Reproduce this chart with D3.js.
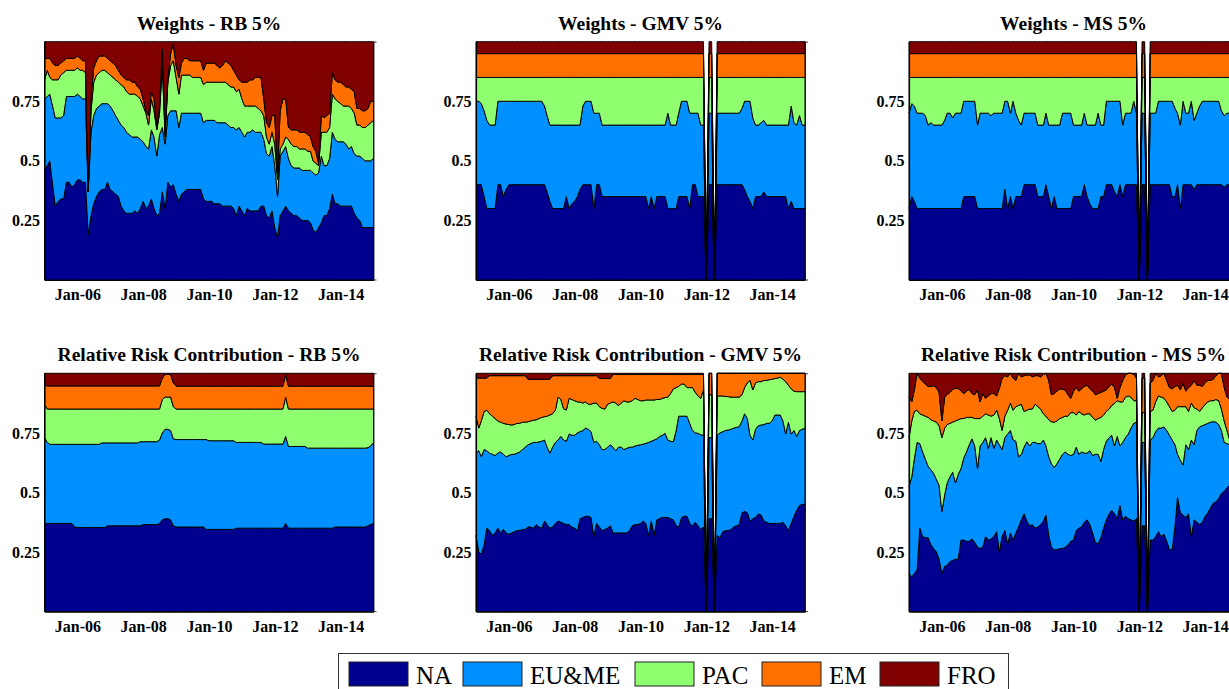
<!DOCTYPE html>
<html>
<head>
<meta charset="utf-8">
<script src="https://cdn.jsdelivr.net/npm/d3@7"></script>
<style>
  body { margin: 0; background: #fff; }
  svg { display: block; }
</style>
</head>
<body>
<svg id="chart" width="1229" height="689"></svg>
<script>
// Monthly observations, Jan 2005 to Jan 2015 (121 months)
const startMonth = new Date(2005, 0, 1);
const months = d3.range(121).map(i => d3.timeMonth.offset(startMonth, i));

const regions = ["NA", "EU&ME", "PAC", "EM", "FRO"];
const regionColors = ["#00008f", "#0090ff", "#8fff70", "#ff7000", "#800000"];

const yTickValues = [0.25, 0.5, 0.75];
const yTickLabels = ["0.25", "0.5", "0.75"];
const xTickYears = [2006, 2008, 2010, 2012, 2014];
const xTickLabels = ["Jan-06", "Jan-08", "Jan-10", "Jan-12", "Jan-14"];

// All values in percent; one row per calendar year (last row = Jan 2015)

// ---- Weights - RB 5%
const wRbNA = [
46,48,50,40,31,33,34,34,41,41,39,40,
42,42,41,41,19,27,32,35,37,38,38,41,
38,37,36,35,31,29,28,28,28,29,28,30,
33,30,31,34,30,27,28,37,30,41,39,40,
36,33,36,37,38,38,38,38,38,38,34,33,
33,33,32,32,32,31,31,31,31,30,27,31,
29,27,30,29,29,29,29,31,31,27,26,29,
22,18,27,29,31,29,28,27,27,26,25,25,
25,24,21,20,22,24,27,27,30,36,32,32,
31,31,31,31,31,28,26,25,22,22,22,22,
22];
const wRbEU = [
30,29,28,33,37,35,34,35,36,36,38,37,
36,35,35,35,18,35,37,37,36,36,36,33,
35,34,33,32,34,35,34,33,32,31,32,29,
25,26,24,29,30,25,33,27,27,28,32,31,
35,31,34,33,32,32,32,32,32,32,32,34,
34,34,35,34,34,35,35,34,33,34,36,33,
33,33,32,33,34,33,33,31,28,26,26,27,
26,17,25,25,25,22,20,20,20,21,21,21,
21,22,24,24,23,28,21,21,21,26,27,26,
27,27,26,24,25,25,26,27,29,28,28,28,
29];
const wRbPAC = [
8,11,7,11,16,16,18,18,11,11,11,11,
11,11,12,11,0,9,14,14,14,14,14,13,
13,14,15,16,17,17,17,17,18,18,17,17,
15,14,10,13,11,11,9,26,3,14,19,21,
14,14,16,16,16,16,15,15,15,15,16,16,
16,16,16,17,17,17,17,17,17,17,16,16,
14,13,11,11,10,11,10,9,10,7,5,6,
9,7,3,3,4,8,9,9,9,8,9,9,
8,8,5,5,3,10,14,14,13,16,17,17,
16,15,16,18,16,17,13,13,13,14,15,16,
16];
const wRbEM = [
9,5,8,7,6,6,5,5,5,5,5,5,
5,5,4,5,0,5,6,6,7,6,6,6,
6,6,6,5,4,4,5,6,5,5,4,4,
3,1,4,3,5,1,3,7,2,1,5,7,
5,7,5,7,7,6,7,7,7,7,6,8,
8,8,8,7,6,7,9,9,9,7,7,4,
7,10,10,11,11,12,13,14,7,6,7,7,
12,3,16,19,16,5,6,7,7,7,7,7,
7,6,6,5,1,7,6,7,6,9,8,8,
9,9,8,8,8,9,7,7,7,7,7,9,
8];
const wRbFRO = [
7,7,7,9,10,10,9,8,7,7,7,7,
6,7,8,8,63,24,11,8,6,6,6,7,
8,9,10,12,14,15,16,16,17,17,19,20,
24,29,31,21,24,36,27,3,38,16,5,1,
10,15,9,7,7,8,8,8,8,8,12,9,
9,9,9,10,11,10,8,9,10,12,14,16,
17,17,17,16,16,15,15,15,24,34,36,31,
31,55,29,24,24,36,37,37,37,38,38,38,
39,40,44,46,51,31,32,31,30,13,16,17,
17,18,19,19,20,21,28,28,29,29,28,25,
25];

// ---- Weights - GMV 5%
const wGmvNA = [
40,40,40,35,30,30,30,30,40,40,35,38,
40,40,40,40,40,40,40,40,40,40,40,40,
40,40,37,33,30,30,30,30,30,35,30,32,
33,35,38,40,40,40,40,30,40,40,35,35,
35,35,35,35,35,35,35,35,35,35,35,35,
35,35,35,30,35,30,35,35,35,35,30,30,
30,30,35,35,35,35,30,40,40,35,35,35,
0,40,40,0,40,40,40,40,40,40,40,40,
40,40,38,35,33,30,35,35,35,37,35,35,
35,35,35,35,35,35,30,33,30,30,30,30,
30];
const wGmvEU = [
35,35,34,36,37,35,35,35,35,35,40,37,
35,35,35,35,35,35,35,35,35,35,35,35,
35,33,32,32,35,35,35,35,35,30,35,33,
32,30,27,33,35,35,35,40,30,30,30,30,
30,30,30,30,30,30,30,30,30,30,30,30,
30,30,30,35,30,35,30,30,30,30,40,35,
35,35,35,40,40,40,40,30,30,35,30,30,
0,30,30,0,30,30,30,30,30,30,30,30,
30,32,37,40,42,38,30,30,31,30,30,30,
30,30,30,30,30,30,35,40,36,35,39,35,
35];
const wGmvPAC = [
10,10,11,14,18,20,20,20,10,10,10,10,
10,10,10,10,10,10,10,10,10,10,10,10,
10,12,16,20,20,20,20,20,20,20,20,20,
20,20,20,12,10,10,10,15,15,15,20,20,
20,20,20,20,20,20,20,20,20,20,20,20,
20,20,20,20,20,20,20,20,20,20,15,20,
20,20,15,10,10,10,15,15,15,15,20,20,
0,15,15,0,15,15,15,15,15,15,15,15,
15,13,10,10,10,17,20,20,19,18,20,20,
20,20,20,20,20,20,20,12,19,20,16,20,
20];
const wGmvEM = [
10,10,10,10,10,10,10,10,10,10,10,10,
10,10,10,10,10,10,10,10,10,10,10,10,
10,10,10,10,10,10,10,10,10,10,10,10,
10,10,10,10,10,10,10,10,10,10,10,10,
10,10,10,10,10,10,10,10,10,10,10,10,
10,10,10,10,10,10,10,10,10,10,10,10,
10,10,10,10,10,10,10,10,10,10,10,10,
0,10,10,0,10,10,10,10,10,10,10,10,
10,10,10,10,10,10,10,10,10,10,10,10,
10,10,10,10,10,10,10,10,10,10,10,10,
10];
const wGmvFRO = [
5,5,5,5,5,5,5,5,5,5,5,5,
5,5,5,5,5,5,5,5,5,5,5,5,
5,5,5,5,5,5,5,5,5,5,5,5,
5,5,5,5,5,5,5,5,5,5,5,5,
5,5,5,5,5,5,5,5,5,5,5,5,
5,5,5,5,5,5,5,5,5,5,5,5,
5,5,5,5,5,5,5,5,5,5,5,5,
0,5,5,0,5,5,5,5,5,5,5,5,
5,5,5,5,5,5,5,5,5,5,5,5,
5,5,5,5,5,5,5,5,5,5,5,5,
5];

// ---- Weights - MS 5%
const wMsNA = [
30,35,33,30,30,30,30,30,30,30,30,30,
30,30,30,30,30,30,30,30,35,35,35,35,
35,30,30,30,30,30,30,30,30,30,30,38,
30,35,30,35,35,35,40,40,40,40,40,35,
35,35,40,35,30,35,30,30,30,30,30,30,
35,35,35,35,40,35,32,30,30,30,35,35,
40,40,40,37,35,40,35,40,40,40,40,40,
0,40,40,0,40,40,40,40,40,40,40,40,
35,35,40,30,40,40,40,40,38,40,40,40,
40,40,40,40,40,40,40,39,40,40,40,40,
40];
const wMsEU = [
40,39,40,40,40,40,39,35,36,35,35,35,
35,37,40,40,38,40,40,40,40,40,40,40,
40,35,40,40,40,40,39,40,40,40,40,37,
45,35,45,35,32,30,30,30,30,30,30,30,
30,30,30,30,35,30,35,35,40,40,40,40,
30,30,30,30,30,30,33,35,35,40,30,30,
35,35,35,38,40,35,30,30,30,30,35,30,
0,30,30,0,30,30,30,35,35,35,35,35,
40,37,30,35,35,30,30,35,29,30,33,35,
35,35,35,35,35,35,31,30,30,30,30,30,
30];
const wMsPAC = [
15,11,12,15,15,15,16,20,19,20,20,20,
20,18,15,15,17,15,15,15,10,10,10,10,
10,20,15,15,15,15,16,15,15,15,15,10,
10,15,10,15,18,20,15,15,15,15,15,20,
20,20,15,20,20,20,20,20,15,15,15,15,
20,20,20,20,15,20,20,20,20,15,20,20,
10,10,10,10,10,10,20,15,15,15,10,15,
0,15,15,0,15,15,15,10,10,10,10,10,
10,13,15,20,10,15,15,10,18,15,12,10,
10,10,10,10,10,10,14,16,15,15,15,15,
15];
const wMsEM = [
10,10,10,10,10,10,10,10,10,10,10,10,
10,10,10,10,10,10,10,10,10,10,10,10,
10,10,10,10,10,10,10,10,10,10,10,10,
10,10,10,10,10,10,10,10,10,10,10,10,
10,10,10,10,10,10,10,10,10,10,10,10,
10,10,10,10,10,10,10,10,10,10,10,10,
10,10,10,10,10,10,10,10,10,10,10,10,
0,10,10,0,10,10,10,10,10,10,10,10,
10,10,10,10,10,10,10,10,10,10,10,10,
10,10,10,10,10,10,10,10,10,10,10,10,
10];
const wMsFRO = [
5,5,5,5,5,5,5,5,5,5,5,5,
5,5,5,5,5,5,5,5,5,5,5,5,
5,5,5,5,5,5,5,5,5,5,5,5,
5,5,5,5,5,5,5,5,5,5,5,5,
5,5,5,5,5,5,5,5,5,5,5,5,
5,5,5,5,5,5,5,5,5,5,5,5,
5,5,5,5,5,5,5,5,5,5,5,5,
0,5,5,0,5,5,5,5,5,5,5,5,
5,5,5,5,5,5,5,5,5,5,5,5,
5,5,5,5,5,5,5,5,5,5,5,5,
5];

// ---- Relative Risk Contribution - RB 5%
const rcRbNA = [
37,37,37,37,37,37,37,37,37,37,37,35.5,
35.3,35.3,35.3,35.3,35.3,35.3,35.3,35.3,35.3,35.3,35.3,36,
36,36,36,36,36,36,36,36,36,36,36,36,
36.5,36.5,36.5,36.5,36.5,36.5,37,38.5,39,39,38.5,36,
35.5,35.5,35.5,35.5,35.5,35.5,35.5,35.5,35.5,35.5,35.5,34.5,
34.5,34.5,34.5,34.5,34.5,34.5,34.5,34.5,34.5,34.5,35,35,
35,35,35,35,35,35,35,35,35,35,35,35,
35,35,35,35,37,35,35,35,35,35,35,35,
35,35,35,35,35,35,35,35,35,35,35.5,35.5,
35.5,35.5,35.5,35.5,35.5,35.5,35.5,35.5,35.5,35.5,36,36.5,
37];
const rcRbEU = [
36,34,33.2,33.2,33.2,33.2,33.2,33.2,33.2,33.2,33.2,34.7,
34.9,34.9,34.9,34.9,34.9,34.9,34.9,34.9,34.9,35.5,35.5,34.8,
34.8,34.8,34.8,34.8,34.8,34.8,34.8,34.8,34.8,34.8,34.8,35.3,
34.8,34.8,34.8,34.8,34.8,34.8,35,36.5,37.5,37.5,37.5,36.5,
36.7,36.7,36.7,36.7,36.7,36.7,36.7,36.7,36.7,36.7,36.7,37.7,
37.2,37.2,37.2,37.2,37.2,37.2,37.2,37.2,37.2,37.2,36,36,
36,36,36,36,36,36,36,36,35.3,35.3,35.3,35.3,
35.3,35.3,35.3,35.3,36.5,34.3,34.3,34.3,34.3,34.3,34.3,34.3,
33.6,33.6,33.6,33.6,33.6,33.6,33.6,33.6,33.6,33.6,33.1,33.1,
33.1,33.1,33.1,33.1,33.1,33.1,33.1,33.1,33.1,33.1,32.8,33,
34];
const rcRbPAC = [
14,14,14.8,14.8,14.8,14.8,14.8,14.8,14.8,14.8,14.8,14.8,
14.8,14.8,14.8,14.8,14.8,14.8,14.8,14.8,14.8,14.2,14.2,14.2,
14.2,14.2,14.2,14.2,14.2,14.2,14.2,14.2,14.2,14.2,14.2,13.7,
13.7,13.7,13.7,13.7,13.7,13.7,13,14,13.5,13.5,14,13.5,
12.8,12.8,12.8,12.8,12.8,12.8,12.8,12.8,12.8,12.8,12.8,12.8,
13.3,13.3,13.3,13.3,13.3,13.3,13.3,13.3,13.3,13.3,14,14,
14,14,14,14,14,14,14,14,14.7,14.7,14.7,14.7,
14.7,14.7,14.7,14.7,16.5,15.7,15.7,15.7,15.7,15.7,15.7,15.7,
16.4,16.4,16.4,16.4,16.4,16.4,16.4,16.4,16.4,16.4,16.4,16.4,
16.4,16.4,16.4,16.4,16.4,16.4,16.4,16.4,16.4,16.4,16.2,15.5,
14];
const rcRbEM = [
8,9.7,9.7,9.7,9.7,9.7,9.7,9.7,9.7,9.7,9.7,9.7,
9.7,9.7,9.7,9.7,9.7,9.7,9.7,9.7,9.7,9.7,9.7,9.7,
9.7,9.7,9.7,9.7,9.7,9.7,9.7,9.7,9.7,9.7,9.7,9.7,
9.7,9.7,9.7,9.7,9.7,9.7,9.7,9,9.5,9.5,9.5,10,
9.6,9.6,9.6,9.6,9.6,9.6,9.6,9.6,9.6,9.6,9.6,9.6,
9.6,9.6,9.6,9.6,9.6,9.6,9.6,9.6,9.6,9.6,9.6,9.6,
9.6,9.6,9.6,9.6,9.6,9.6,9.6,9.6,9.6,9.6,9.6,9.6,
9.6,9.6,9.6,9.6,9.5,9.6,9.6,9.6,9.6,9.6,9.6,9.6,
9.6,9.6,9.6,9.6,9.6,9.6,9.6,9.6,9.6,9.6,9.6,9.6,
9.6,9.6,9.6,9.6,9.6,9.6,9.6,9.6,9.6,9.6,9.6,9.6,
9.6];
const rcRbFRO = [
5,5.3,5.3,5.3,5.3,5.3,5.3,5.3,5.3,5.3,5.3,5.3,
5.3,5.3,5.3,5.3,5.3,5.3,5.3,5.3,5.3,5.3,5.3,5.3,
5.3,5.3,5.3,5.3,5.3,5.3,5.3,5.3,5.3,5.3,5.3,5.3,
5.3,5.3,5.3,5.3,5.3,5.3,5.3,2,0.5,0.5,0.5,4,
5.4,5.4,5.4,5.4,5.4,5.4,5.4,5.4,5.4,5.4,5.4,5.4,
5.4,5.4,5.4,5.4,5.4,5.4,5.4,5.4,5.4,5.4,5.4,5.4,
5.4,5.4,5.4,5.4,5.4,5.4,5.4,5.4,5.4,5.4,5.4,5.4,
5.4,5.4,5.4,5.4,0.5,5.4,5.4,5.4,5.4,5.4,5.4,5.4,
5.4,5.4,5.4,5.4,5.4,5.4,5.4,5.4,5.4,5.4,5.4,5.4,
5.4,5.4,5.4,5.4,5.4,5.4,5.4,5.4,5.4,5.4,5.4,5.4,
5.4];

// ---- Relative Risk Contribution - GMV 5%
const rcGmvNA = [
32,25,24,28,35,34,32,33,35,33,34.5,33,
32.5,33,33.5,34,34,34.5,34.5,35.5,35.5,35,36.5,35.5,
35,38,36.5,35,35.5,37,38,37.5,37,36.5,36.5,35.5,
35,34,39,39.5,40,40,39.5,31.5,37,35.5,34,34.5,
35,36,33,33,33,33,33,33,34,36,36.5,36.5,
37,38,37,32,38,32,38.5,39,39.5,39.5,39.5,39,
38.5,36,35.5,39.5,40,40,37,36,37.5,36,34.5,35.5,
0,39,39,0,32,31,33.5,34,34,34.5,35.5,36,
36.5,41.5,42,41.5,38,39,39.5,41,40.5,38,37.5,37,
37,37,37,37,37.5,36,34,37,40,42.5,44.5,45,
45];
const rcGmvEU = [
34.5,42.5,41,40,32.5,32.5,34,32.5,31.5,34,31.5,32,
33,33,32.5,32.5,33,33.5,34.5,34.5,35,36,34.5,35.7,
36.5,34,32.5,31.5,33.5,34,34,36,35,35,38,38.5,
39,41,36.5,36.5,37,36.5,36,39.5,34.5,34.5,34,33.5,
34,34,36,34.5,36,36,35,35.5,35,33,33,33.3,
33,32.3,33.6,39,33.5,40,34,34.5,34.5,35.3,32.5,32.5,
32.8,40,46.5,42.5,42,42,42,40,37.5,38.8,39.7,38.5,
0,34,34,0,42,44,42,42,42.2,42,41.5,41.3,
41.1,38.5,41,39.5,36,33,37,37,37.8,40.5,41.5,42,
43,45.5,45.5,45.5,42.5,38.5,45.5,37.5,36,31,31.5,31.5,
32];
const rcGmvPAC = [
15.5,9.5,15,16,17,16.5,16,15.5,13.5,12.5,13,13.7,
13,12.3,12.5,12.5,12,11.5,10.5,9.7,9.5,9.3,9.5,9.8,
10,9.8,13,16,14,13.5,18,15.5,13,13.1,15,15,
14.5,13,12.5,11.5,11,10.5,11.5,16.5,16,16,17.3,17,
18,17.5,19,20,17.5,18.5,20.5,19.5,19,19.5,20,19.2,
18.5,18.2,18.2,17.8,17.3,16.8,16.5,15.5,15.5,15,18,20,
22.2,18,12.5,13.5,13.5,12,15,18,17,15.7,15.3,19,
0,18,18,0,16.5,15.5,15,14.3,14,13.5,13,12.7,
12.4,11,11,15,23,21,19.5,18.5,18.2,18.5,18,18.3,
17.5,15.3,15.5,15.8,17.5,22,15.5,19,16.5,18.8,16.3,15.8,
15.3];
const rcGmvEM = [
16,21,18,14,13.5,16,17,18,19,19.5,20,20.3,
20.5,20.7,20.5,20,20,19.5,19.5,17.8,17.5,17.2,17,16.5,
16,15.7,15.5,15,16,14.5,9,10,14,14.4,9.5,10,
10.5,11,11,11.5,11,12,12,11.5,11.5,11.8,12.5,12.8,
10.8,10.3,11.5,12,13,12,11,11.5,11.5,11,10,10.5,
11,11,10.7,10.7,10.7,10.7,10.5,10.5,10,9.7,9.5,8,
6,5.5,5,4,4,5.5,5.5,5.5,7.5,9,10,6.5,
0,9,9,0,9.5,9.5,9.5,9.7,9.8,10,10,10,
10,9,6,4,3,7,4,3.5,3.5,3,3,2.7,
2.5,2.2,2,1.7,2.5,3.5,5,6.5,7.5,7.7,7.7,7.7,
7.7];
const rcGmvFRO = [
2,2,2,2,2,1,1,1,1,1,1,1,
1,1,1,1,1,1,1,2.5,2.5,2.5,2.5,2.5,
2.5,2.5,2.5,2.5,1,1,1,1,1,1,1,1,
1,1,1,1,1,1,1,1,1,2.2,2.2,2.2,
2.2,2.2,0.5,0.5,0.5,0.5,0.5,0.5,0.5,0.5,0.5,0.5,
0.5,0.5,0.5,0.5,0.5,0.5,0.5,0.5,0.5,0.5,0.5,0.5,
0.5,0.5,0.5,0.5,0.5,0.5,0.5,0.5,0.5,0.5,0.5,0.5,
0,0,0,0,0,0,0,0,0,0,0,0,
0,0,0,0,0,0,0,0,0,0,0,0,
0,0,0,0,0,0,0,0,0,0,0,0,
0];

// ---- Relative Risk Contribution - MS 5%
const rcMsNA = [
16,14.5,16,17.5,35,31.5,31,31,28,26.5,25,22,
16,19,19.5,21,21.5,22,22,30,30,29.5,29.5,30.5,
29,27,26.5,27,31.5,30,30.5,31.5,33.5,25,31.5,34,
28.5,33,30,33,35.5,38.5,41,38,36,36.5,35,35.5,
36.5,38,40.5,32,27,26,26,26.5,26.5,27,28,29.5,
30,34,35,35.5,37.5,38.5,36.5,33,29,28.5,31,35,
38.5,41,42.5,41,39,44.5,38.5,40,39,38.5,38,39,
0,36,36,0,30,30,31.5,33.5,31.5,32.5,29.5,26,
26,36,48,41.5,40.5,39.5,41,31.5,38.5,37.5,36.5,37.5,
40,41.5,43.5,45.5,46,47.5,49.5,50.5,52,53,53,53,
53];
const rcMsEU = [
36.5,42,48,53.5,35.5,35.5,33,30,31.5,31.5,30.5,31,
26,30,34.5,35.6,37,32,35.5,30,34.5,37.5,40.5,42,
40.5,33,43,44,41.5,38.5,42.5,37,38.5,45,36.5,39,
46,43,42,38.5,29.5,27.5,28,33.3,33.5,34.5,36,35,
34,34,29,33,35,34.5,36,37.5,39.5,40,38,36,
36,35,31,31.5,29,28,31,32.5,37,37.5,32,33,
33,32,31.5,28.5,34.5,25,32.5,33,35.5,38.5,41,40.5,
0,35,35,0,42,43,44,43.5,45.5,45,46.5,48,
46,34,18,22,21,30.5,27,40.5,31.5,38.5,41,40.5,
38.5,37.5,36,34.2,33.5,31,26.5,20.5,18.5,17,17,17,
17];
const rcMsPAC = [
20.5,23.5,20,13.5,12.5,15.5,18,20.5,21,22,24,25,
31,28,24.5,22.4,21,26,23,21,16.5,14.5,11.5,9,
11.5,21,11.5,11,10,14,9,14,12.5,11,8,9,
10,11.5,12.5,14.5,21.5,21,15,13.2,15.5,14,16,15.5,
14.5,11,12.5,15.5,17.7,19,18,17,15.5,15,16,18,
17.5,13.5,18,16,16,16.5,15.5,16,14.4,15,18.5,14.5,
12.5,12,12.5,17.9,15,18.5,17,17,16,13,9.5,9,
0,12.5,12.5,0,12,11.5,12.5,13.5,13,12,12,12,
12,14.5,20,22.5,24.5,16,16,15.5,15.5,9,6.5,7.5,
8.5,9,9,8.8,9.5,10,9,9,5.5,2,1,1,
1];
const rcMsEM = [
17,8,9,15.5,15,14,13.5,13,14,14.8,14.5,14,
7,13,12.5,13,13.8,13.7,13.2,11.5,10.5,11,11.8,10,
10,12,7,9.5,6.5,8,9.5,9,6,12.7,22,17,
14,12.5,13.5,11,13.5,11.5,15,14.8,14.3,13.5,12,13,
13.5,16.5,18,16.5,11.3,12,12.5,12.5,11.8,11,9,6,
9,11.5,8.5,10.5,12,12,10.5,11,10.6,10.5,10.5,10,
9,9.5,9,6.6,1,6,9,9.3,9.5,10,11,9.5,
0,14.5,14.5,0,11.8,12.5,12,8,9,10.5,9,8,
9.5,10,9,7,9.8,6.5,10,7.5,11.5,10,11,9,
9,9,8.5,9,10,11.5,15,14,14,17,18,18,
18];
const rcMsFRO = [
10,12,7,0,2,3.5,4.5,5.5,5.5,5.2,6,8,
20,10,9,8,6.7,6.3,6.3,7.5,8.5,7.5,6.7,8.5,
9,7,12,8.5,10.5,9.5,8.5,8.5,9.5,6.3,2,1,
1.5,0,2,3,0,1.5,1,0.7,0.7,1.5,1,1,
1.5,0.5,0,3,9,8.5,7.5,6.5,6.7,7,9,10.5,
7.5,6,7.5,6.5,5.5,5,6.5,7.5,9,8.5,8,7.5,
7,5.5,4.5,6,10.5,6,3,0.7,0,0,0.5,2,
0,2,2,0,4.2,3,0,1.5,1,0,3,6,
6.5,5.5,5,7,4.2,7.5,6,5,3,5,5,5.5,
4,3,3,2.5,1,0,0,6,10,11,11,11,
11];

const panels = [
  { title: "Weights - RB 5%", row: 0, col: 0, series: [wRbNA, wRbEU, wRbPAC, wRbEM, wRbFRO] },
  { title: "Weights - GMV 5%", row: 0, col: 1, series: [wGmvNA, wGmvEU, wGmvPAC, wGmvEM, wGmvFRO] },
  { title: "Weights - MS 5%", row: 0, col: 2, series: [wMsNA, wMsEU, wMsPAC, wMsEM, wMsFRO] },
  { title: "Relative Risk Contribution - RB 5%", row: 1, col: 0, series: [rcRbNA, rcRbEU, rcRbPAC, rcRbEM, rcRbFRO] },
  { title: "Relative Risk Contribution - GMV 5%", row: 1, col: 1, series: [rcGmvNA, rcGmvEU, rcGmvPAC, rcGmvEM, rcGmvFRO] },
  { title: "Relative Risk Contribution - MS 5%", row: 1, col: 2, series: [rcMsNA, rcMsEU, rcMsPAC, rcMsEM, rcMsFRO] }
];

// ---- layout
const svg = d3.select("#chart");
const colLeft = [44.5, 476, 909];
const rowTop = [41.7, 373.3];
const plotW = 329, plotH = 238.3;
const serif = "'Liberation Serif', 'Times New Roman', Times, serif";

const x = d3.scaleTime().domain([months[0], months[months.length - 1]]).range([0, plotW]);
const y = d3.scaleLinear().domain([0, 1]).range([plotH, 0]);
const xTickDates = xTickYears.map(yr => new Date(yr, 0, 1));

const stack = d3.stack().keys(regions);
const area = d3.area()
  .x(d => x(d.data.date))
  .y0(d => y(d[0]))
  .y1(d => y(d[1]));

panels.forEach(p => {
  const g = svg.append("g")
    .attr("transform", `translate(${colLeft[p.col]},${rowTop[p.row]})`);

  const records = months.map((date, i) => {
    const r = { date };
    regions.forEach((k, j) => { r[k] = p.series[j][i] / 100; });
    return r;
  });

  g.selectAll("path.layer")
    .data(stack(records))
    .join("path")
    .attr("class", "layer")
    .attr("fill", (d, i) => regionColors[i])
    .attr("stroke", "#000")
    .attr("stroke-width", 1)
    .attr("stroke-linejoin", "round")
    .attr("d", area);

  // x axis
  const xa = g.append("g")
    .attr("transform", `translate(0,${plotH})`)
    .call(d3.axisBottom(x)
      .tickValues(xTickDates)
      .tickFormat((d, i) => xTickLabels[i])
      .tickSizeInner(0).tickSizeOuter(0).tickPadding(9));

  // y axis
  const ya = g.append("g")
    .call(d3.axisLeft(y)
      .tickValues(yTickValues)
      .tickFormat((d, i) => yTickLabels[i])
      .tickSizeInner(0).tickSizeOuter(0).tickPadding(4.5));

  [xa, ya].forEach(a => {
    a.select(".domain").attr("stroke", "#000").attr("stroke-width", 1.2);
    a.selectAll("text")
      .attr("fill", "#000")
      .style("font-family", serif)
      .style("font-weight", "bold")
      .style("font-size", "16px");
  });

  // right frame edge with its end marks
  g.append("line").attr("x1", plotW + 0.5).attr("x2", plotW + 0.5)
    .attr("y1", 0).attr("y2", plotH).attr("stroke", "#000").attr("stroke-width", 0.8);
  g.append("line").attr("x1", plotW).attr("x2", plotW + 3)
    .attr("y1", 0.5).attr("y2", 0.5).attr("stroke", "#000").attr("stroke-width", 0.8);
  g.append("line").attr("x1", plotW).attr("x2", plotW + 3)
    .attr("y1", plotH).attr("y2", plotH).attr("stroke", "#000").attr("stroke-width", 0.8);

  // title
  g.append("text")
    .attr("x", plotW / 2)
    .attr("y", -12)
    .attr("text-anchor", "middle")
    .style("font-family", serif)
    .style("font-weight", "bold")
    .style("font-size", "19.5px")
    .attr("fill", "#000")
    .text(p.title);
});

// ---- legend
const legendSwatchX = [349, 463, 635, 762, 880];
const legend = svg.append("g");
legend.append("rect")
  .attr("x", 338.5).attr("y", 653.5)
  .attr("width", 670).attr("height", 44)
  .attr("fill", "#fff").attr("stroke", "#333").attr("stroke-width", 1);
regions.forEach((name, i) => {
  legend.append("rect")
    .attr("x", legendSwatchX[i]).attr("y", 662)
    .attr("width", 59).attr("height", 24)
    .attr("fill", regionColors[i])
    .attr("stroke", "#222").attr("stroke-width", 1);
  legend.append("text")
    .attr("x", legendSwatchX[i] + 67).attr("y", 683.5)
    .style("font-family", serif)
    .style("font-size", "25px")
    .attr("fill", "#000")
    .text(name);
});
</script>
</body>
</html>
